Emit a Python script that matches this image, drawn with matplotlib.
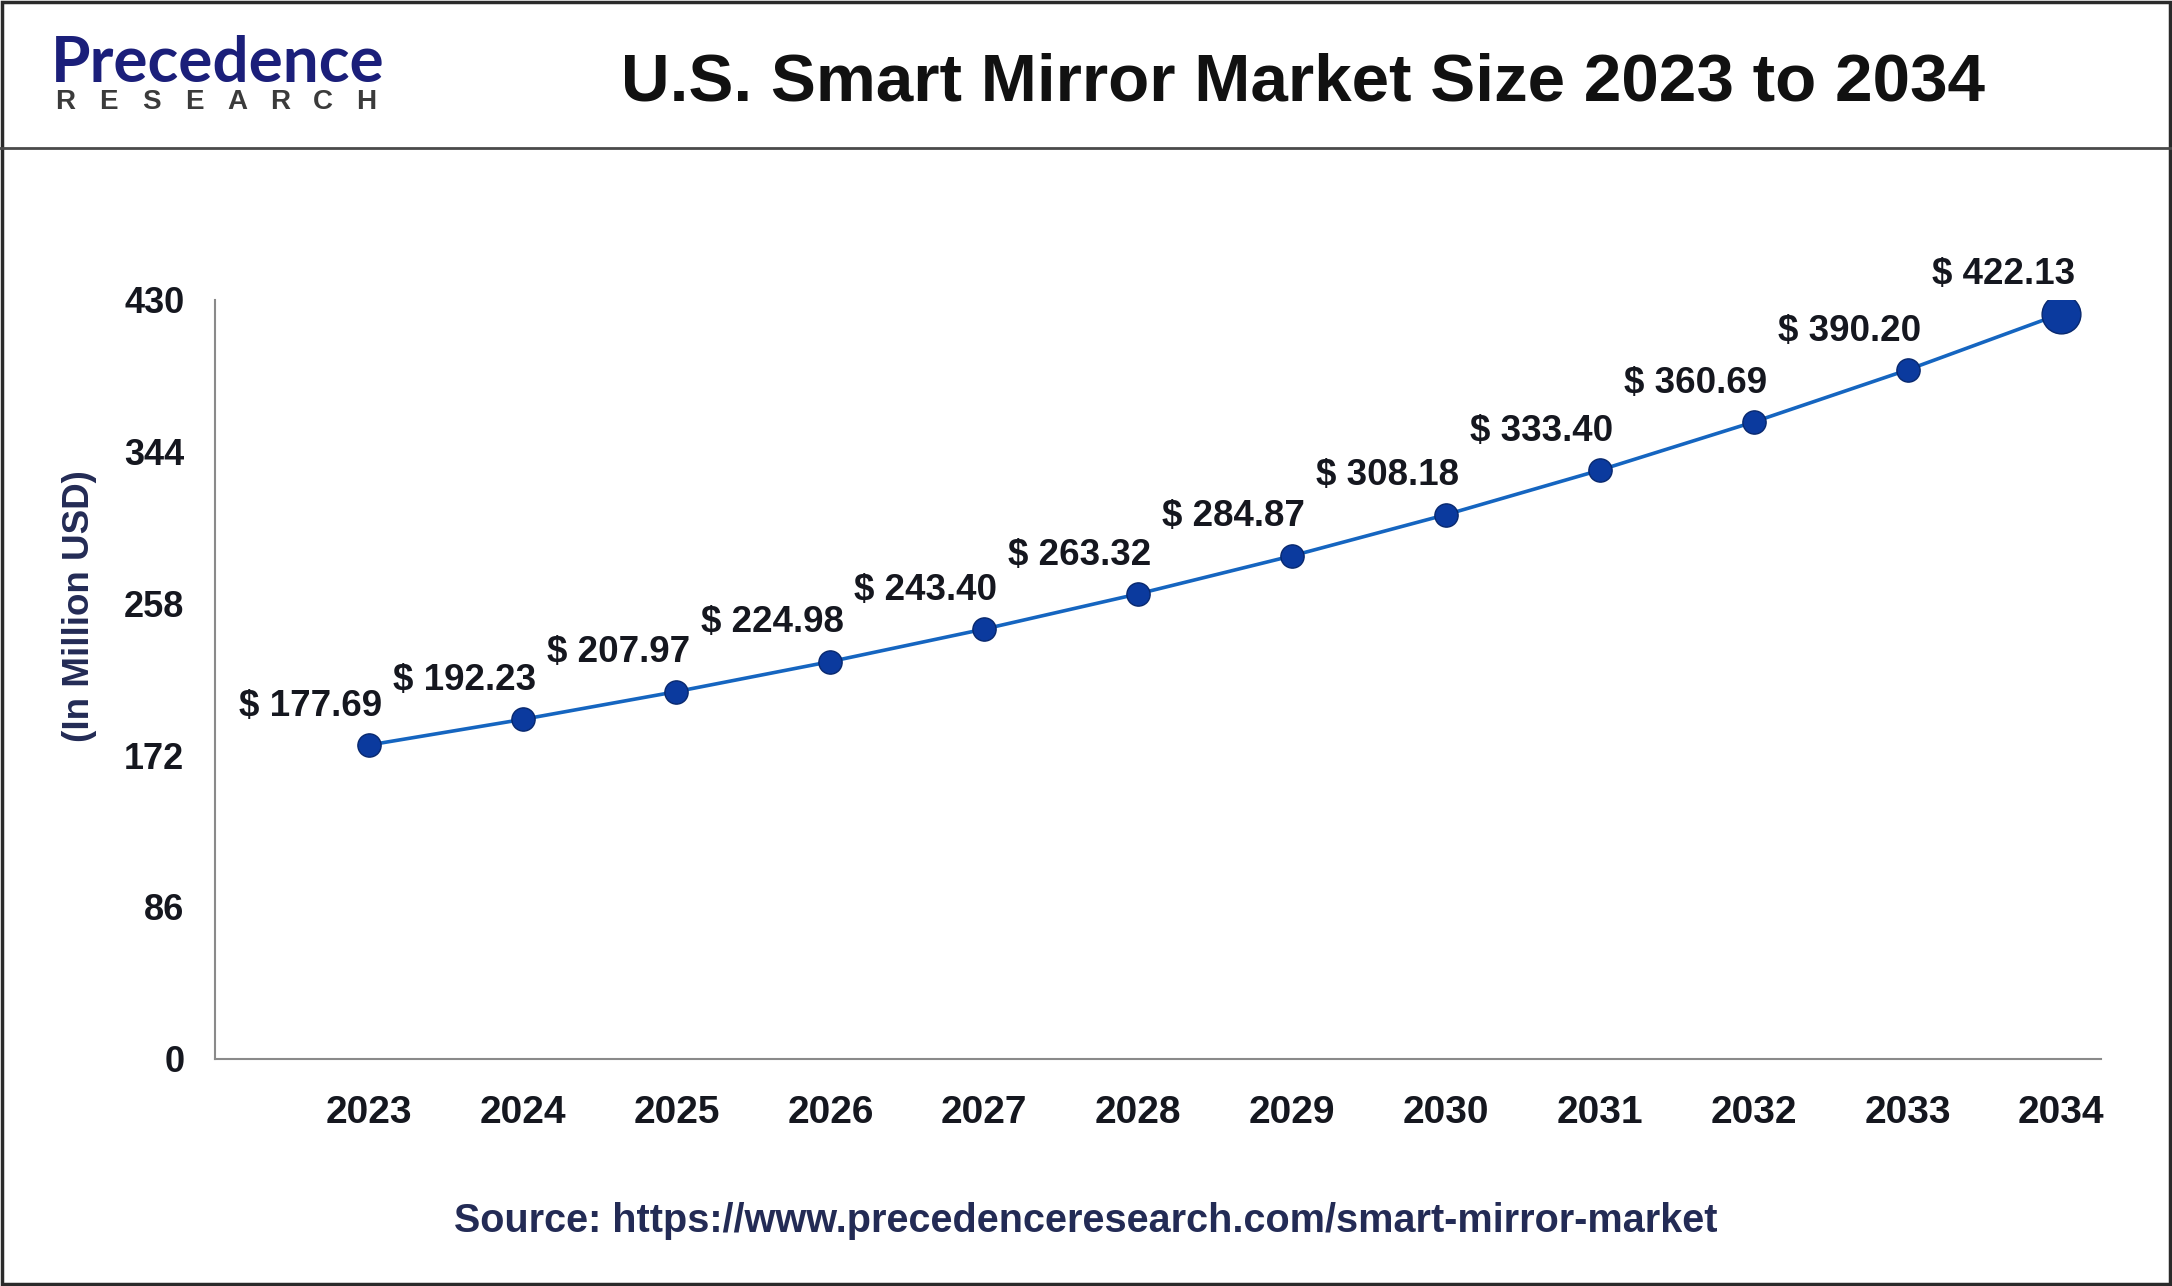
import matplotlib
matplotlib.use('Agg')
import matplotlib.pyplot as plt
from matplotlib.lines import Line2D
from matplotlib.patches import Rectangle

# --- chart data ---
years = [2023, 2024, 2025, 2026, 2027, 2028, 2029, 2030, 2031, 2032, 2033, 2034]
values = [177.69, 192.23, 207.97, 224.98, 243.40, 263.32, 284.87, 308.18, 333.40, 360.69, 390.20, 422.13]
y_ticks = [0, 86, 172, 258, 344, 430]

title = 'U.S. Smart Mirror Market Size 2023 to 2034'
source = 'Source: https://www.precedenceresearch.com/smart-mirror-market'
y_label = '(In Million USD)'

FONT = 'Liberation Sans'
LINE_COLOR = '#1565c0'
MARKER_COLOR = '#0b3a9e'
TEXT_DARK = '#15171f'
NAVY = '#232b55'

fig = plt.figure(figsize=(21.72, 12.86), dpi=100)
fig.patch.set_facecolor('white')

# outer frame and header separator
fig.add_artist(Rectangle((0.0008, 0.0012), 0.9984, 0.9976, transform=fig.transFigure,
                         fill=False, edgecolor='#2a2a2a', linewidth=2.5))
fig.add_artist(Line2D([0, 1], [0.885, 0.885], transform=fig.transFigure,
                      color='#4a4a4a', linewidth=2))

# logo
fig.text(0.0235, 0.936, 'Precedence', fontsize=46, fontweight='bold', color='#1b1f7a',
         family=['Lato', FONT], ha='left', va='baseline')
for i, ch in enumerate('RESEARCH'):
    fig.text(0.0300 + i * 0.0198, 0.921, ch, fontsize=20, fontweight='bold',
             color='#3b3b3b', family=FONT, ha='center', va='center')

# title
fig.text(0.60, 0.935, title, fontsize=48.5, fontweight='bold', color='#111111',
         family=FONT, ha='center', va='center')

ax = fig.add_axes([0.0989, 0.1767, 0.8686, 0.5903])
ax.plot(years, values, color=LINE_COLOR, linewidth=2.6, zorder=2)
ax.scatter(years[:-1], values[:-1], s=280, color=MARKER_COLOR, edgecolors='#08286e',
           linewidths=1, zorder=3)
ax.scatter(years[-1:], values[-1:], s=780, color=MARKER_COLOR, edgecolors='#08286e',
           linewidths=1, zorder=3)

for x, v in zip(years, values):
    ax.annotate(f'$ {v:.2f}', (x, v), xytext=(-42, 28), textcoords='offset points',
                ha='center', va='center', fontsize=26.5, fontweight='bold',
                color=TEXT_DARK, family=FONT)

ax.set_xlim(2022, 2034.26)
ax.set_ylim(0, 430)
ax.set_yticks(y_ticks)
ax.set_xticks(years)
ax.set_xticklabels([str(y) for y in years])

for side in ['top', 'right']:
    ax.spines[side].set_visible(False)
for side in ['left', 'bottom']:
    ax.spines[side].set_color('#8a8a8a')
    ax.spines[side].set_linewidth(1.5)

ax.tick_params(axis='y', length=0, pad=22, labelsize=26, labelcolor=TEXT_DARK)
ax.tick_params(axis='x', length=0, pad=26, labelsize=28, labelcolor=TEXT_DARK)
for lbl in ax.get_xticklabels() + ax.get_yticklabels():
    lbl.set_fontweight('bold')
    lbl.set_family(FONT)

fig.text(0.0365, 0.529, y_label, rotation=90, fontsize=26.5, fontweight='bold',
         color=NAVY, family=FONT, ha='center', va='center')

fig.text(0.50, 0.0505, source, fontsize=28.5, fontweight='bold', color=NAVY,
         family=FONT, ha='center', va='center')

fig.savefig('out.png', dpi=100, facecolor='white')
